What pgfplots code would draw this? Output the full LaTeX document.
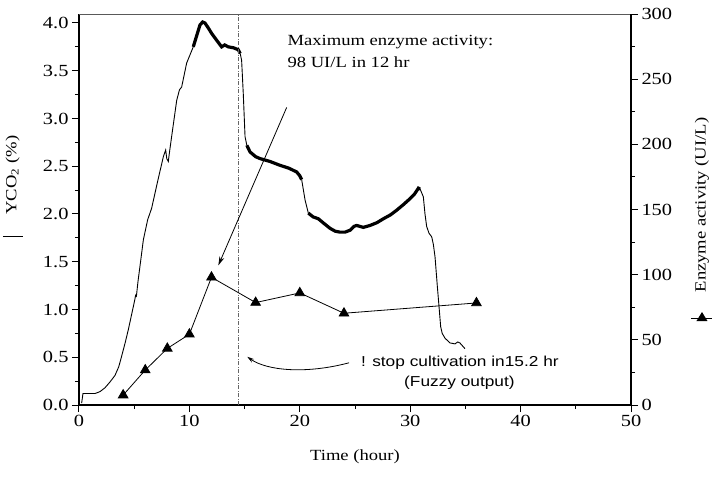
\documentclass[border=0pt]{standalone}
\usepackage{fontspec}
\setmainfont{Liberation Serif}[FakeStretch=1.2]
\setsansfont{Liberation Sans}[FakeStretch=1.2]
\usepackage{pgfplots}
\pgfplotsset{compat=1.18}
\usetikzlibrary{arrows.meta}

% YCO2 trace, split where the recorded signal gets noisy (drawn thicker)
\pgfplotstableread{
x y
0.24 0.02
0.36 0.12
1.00 0.12
1.45 0.12
1.90 0.14
2.35 0.18
2.80 0.24
3.26 0.31
3.60 0.40
3.86 0.51
4.20 0.66
4.47 0.79
4.92 1.03
5.05 1.10
5.13 1.15
5.20 1.14
5.35 1.30
5.52 1.45
5.83 1.73
6.22 1.94
6.58 2.06
7.10 2.33
7.64 2.60
7.85 2.67
7.95 2.58
8.09 2.55
8.20 2.65
8.39 2.81
8.85 3.19
9.10 3.30
9.30 3.33
9.75 3.58
10.35 3.75
}\ycoA
\pgfplotstableread{
x y
10.35 3.75
10.96 3.98
11.20 4.01
11.41 4.00
11.70 3.95
12.02 3.89
12.40 3.83
12.92 3.75
13.20 3.77
13.52 3.75
14.00 3.74
14.43 3.72
14.60 3.68
}\ycoB
\pgfplotstableread{
x y
14.60 3.68
14.73 3.61
14.88 3.26
15.04 2.81
15.20 2.72
}\ycoC
\pgfplotstableread{
x y
15.20 2.72
15.49 2.65
16.00 2.60
16.40 2.58
17.30 2.55
18.20 2.51
19.00 2.48
19.72 2.44
20.00 2.40
20.17 2.36
}\ycoD
\pgfplotstableread{
x y
20.17 2.36
20.47 2.15
20.77 2.01
}\ycoE
\pgfplotstableread{
x y
20.77 2.01
21.20 1.97
21.68 1.95
22.20 1.90
22.74 1.85
23.20 1.82
23.64 1.81
24.10 1.81
24.55 1.83
24.90 1.87
25.15 1.88
25.45 1.87
25.75 1.86
26.36 1.88
27.00 1.91
27.57 1.95
28.20 1.99
28.78 2.04
29.40 2.10
29.98 2.16
30.40 2.21
30.74 2.27
30.90 2.26
}\ycoF
\pgfplotstableread{
x y
30.90 2.26
31.19 2.18
31.34 2.00
31.49 1.87
31.70 1.80
31.95 1.76
32.10 1.68
32.25 1.55
32.46 1.24
32.64 0.99
32.76 0.82
32.90 0.75
33.15 0.70
33.60 0.65
34.06 0.64
34.30 0.66
34.50 0.65
34.96 0.59
}\ycoG
% enzyme activity samples (UI/L)
\pgfplotstableread{
x y
4 7.6
6 26.8
8 43.4
10 54.3
12 98
16 78.6
20 86
24 70.4
36 78.3
}\enzyme

\newcommand{\lblfont}{\fontsize{15.5}{18}\selectfont}
\newcommand{\tickfont}{\fontsize{17}{20}\selectfont}

\begin{document}
\begin{tikzpicture}
\pgfplotsset{
  base/.style={
    scale only axis, width=552pt, height=391pt,
    at={(0,0)}, anchor=south west,
    xmin=0, xmax=50,
    tick align=outside,
    major tick length=7pt, minor tick length=4pt,
    every tick/.style={black, line width=1pt},
    axis line style={line width=1.5pt},
    /pgf/number format/assume math mode=true,
    ticklabel style={font=\tickfont},
    label style={font=\lblfont},
    clip=false,
  }
}
\begin{axis}[base, name=main,
  ymin=0, ymax=4.094,
  axis x line*=bottom, axis y line*=left,
  xtick={0,10,20,30,40,50}, minor x tick num=1,
  ytick={0,0.5,1,1.5,2,2.5,3,3.5,4}, minor y tick num=1,
  yticklabel style={/pgf/number format/.cd, fixed, fixed zerofill, precision=1},
  xlabel={Time (hour)},
  xlabel style={at={(axis description cs:0.5,-0.133)}, anchor=center},
  ylabel={YCO\textsubscript{2} (\%)},
  ylabel style={at={(axis description cs:-0.12,0.588)}, anchor=center},
]
  \addplot[black, line width=0.9pt] table {\ycoA};
  \addplot[black, line width=3.2pt] table {\ycoB};
  \addplot[black, line width=0.9pt] table {\ycoC};
  \addplot[black, line width=3.2pt] table {\ycoD};
  \addplot[black, line width=0.9pt] table {\ycoE};
  \addplot[black, line width=3.2pt] table {\ycoF};
  \addplot[black, line width=0.9pt] table {\ycoG};
  % fuzzy stop signal
  \draw[gray!80!black, line width=0.9pt, dash pattern=on 4pt off 1.5pt on 1pt off 1.5pt]
    (axis cs:14.45,0) -- (axis cs:14.45,4.094);
  \node[anchor=base west, font=\lblfont] at (axis cs:18.57,3.76) {Maximum enzyme activity:};
  \node[anchor=base west, font=\lblfont] at (axis cs:18.57,3.53) {98 UI/L in 12 hr};
  \node[anchor=center, font=\sffamily\fontsize{14.4}{17}\selectfont] at (axis cs:34.5,0.443) {! stop cultivation in15.2 hr};
  \node[anchor=center, font=\sffamily\fontsize{14.4}{17}\selectfont] at (axis cs:34.46,0.23) {(Fuzzy output)};
  % line key beside the left axis title
  \draw[black, line width=1pt] ([xshift=-10pt]axis description cs:-0.12,0.43) -- ([xshift=10pt]axis description cs:-0.12,0.43);
\end{axis}
\draw[gray!70!black, line width=0.9pt] (main.north west) -- (main.north east);
\begin{axis}[base,
  ymin=0, ymax=300,
  axis y line*=right, hide x axis,
  ytick={0,50,100,150,200,250,300}, minor y tick num=1,
  ylabel={Enzyme activity (UI/L)},
  ylabel style={at={(axis description cs:1.1286,0.5115)}, anchor=center},
]
  \addplot[black, line width=0.8pt, mark=triangle*, mark size=5.5pt] table {\enzyme};
  \draw[black, line width=0.8pt, -{Stealth[length=9pt, width=5pt]}]
    (axis cs:18.81,228.3) -- (axis cs:12.62,107.1);
  \draw[black, line width=0.8pt, -{Stealth[length=7pt, width=4pt]}]
    (axis cs:24.46,32.4) .. controls (axis cs:20.5,23.5) and (axis cs:17.0,26.5) .. (axis cs:15.24,37.0);
  % marker key beside the right axis title
  \draw[black, line width=1pt] ([xshift=-10.5pt]axis description cs:1.1286,0.2225) -- ([xshift=10.5pt]axis description cs:1.1286,0.2225);
  \fill[black] ([yshift=6pt]axis description cs:1.1286,0.2225) -- ([xshift=-5.5pt,yshift=-3pt]axis description cs:1.1286,0.2225) -- ([xshift=5.5pt,yshift=-3pt]axis description cs:1.1286,0.2225) -- cycle;
\end{axis}
\pgfresetboundingbox
\path[use as bounding box] ([shift={(-79pt,-73pt)}]main.south west) rectangle ([shift={(88pt,14pt)}]main.north east);
\end{tikzpicture}
\end{document}
